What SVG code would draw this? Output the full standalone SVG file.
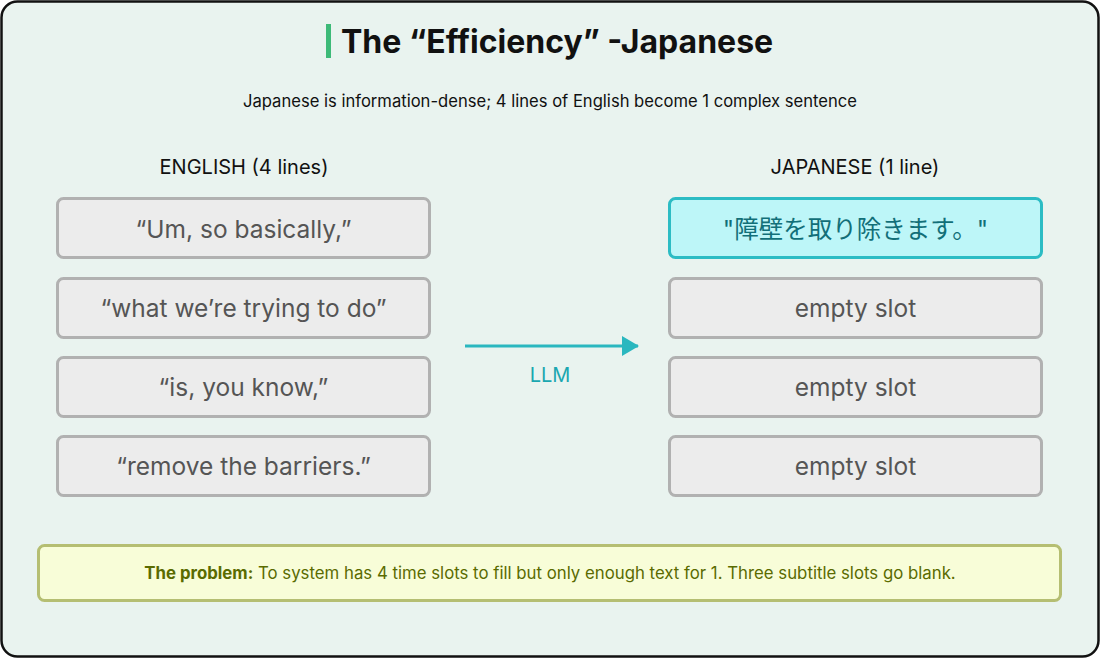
<svg xmlns="http://www.w3.org/2000/svg" width="1100" height="658" viewBox="0 0 1100 658">
<style>
text{font-family:Inter,"Noto Sans","Liberation Sans","Noto Sans CJK JP",sans-serif}
.box{fill:#ececec;stroke:#b1b1b1;stroke-width:3}
.bt{font-size:24.5px;fill:#555;text-anchor:middle}
.hd{font-size:20px;fill:#111;text-anchor:middle}
</style>
<defs>
<marker id="ah" markerWidth="18" markerHeight="20" refX="16" refY="10" orient="auto" markerUnits="userSpaceOnUse">
<path d="M0,0 L17,10 L0,20 Z" fill="#2ab7bf"/>
</marker>
</defs>
<rect x="1.5" y="1.5" width="1097" height="655" rx="16" fill="#e9f3ef" stroke="#111" stroke-width="2.5"/>
<g id="title">
<rect x="326" y="24" width="5" height="34" fill="#3dba78"/>
<text x="341" y="53" font-size="32" font-weight="700" fill="#111">The “Efficiency” -Japanese</text>
<text x="550" y="107" font-size="16.6" fill="#111" text-anchor="middle">Japanese is information-dense; 4 lines of English become 1 complex sentence</text>
</g>
<text class="hd" x="244" y="174">ENGLISH (4 lines)</text>
<text class="hd" x="855" y="174">JAPANESE (1 line)</text>
<g id="en1"><rect class="box" x="57.5" y="198.5" width="372" height="59" rx="6"/><text class="bt" x="243.5" y="238">“Um, so basically,”</text></g>
<g id="en2"><rect class="box" x="57.5" y="278.5" width="372" height="59" rx="6"/><text class="bt" x="243.5" y="317">“what we’re trying to do”</text></g>
<g id="en3"><rect class="box" x="57.5" y="357.5" width="372" height="59" rx="6"/><text class="bt" x="243.5" y="396">“is, you know,”</text></g>
<g id="en4"><rect class="box" x="57.5" y="436.5" width="372" height="59" rx="6"/><text class="bt" x="243.5" y="475">“remove the barriers.”</text></g>
<g id="ja1"><rect x="669.5" y="198.5" width="372" height="59" rx="6" fill="#bdf6f8" stroke="#2cbcc4" stroke-width="3"/><text class="bt" x="855.5" y="238" style="fill:#126f78">"障壁を取り除きます。"</text></g>
<g id="ja2"><rect class="box" x="669.5" y="278.5" width="372" height="59" rx="6"/><text class="bt" x="855.5" y="317">empty slot</text></g>
<g id="ja3"><rect class="box" x="669.5" y="357.5" width="372" height="59" rx="6"/><text class="bt" x="855.5" y="396">empty slot</text></g>
<g id="ja4"><rect class="box" x="669.5" y="436.5" width="372" height="59" rx="6"/><text class="bt" x="855.5" y="475">empty slot</text></g>
<g id="connectors">
<line x1="465" y1="346" x2="638" y2="346" stroke="#2ab7bf" stroke-width="3" marker-end="url(#ah)"/>
<text x="550" y="382" font-size="20" fill="#1aa7b0" text-anchor="middle">LLM</text>
</g>
<g id="problem">
<rect x="38.5" y="545.5" width="1022" height="55" rx="6" fill="#f8fdd8" stroke="#b5be72" stroke-width="3"/>
<text x="550" y="579" font-size="16.8" fill="#5a6b00" text-anchor="middle"><tspan font-weight="700">The problem:</tspan> To system has 4 time slots to fill but only enough text for 1. Three subtitle slots go blank.</text>
</g>
</svg>
